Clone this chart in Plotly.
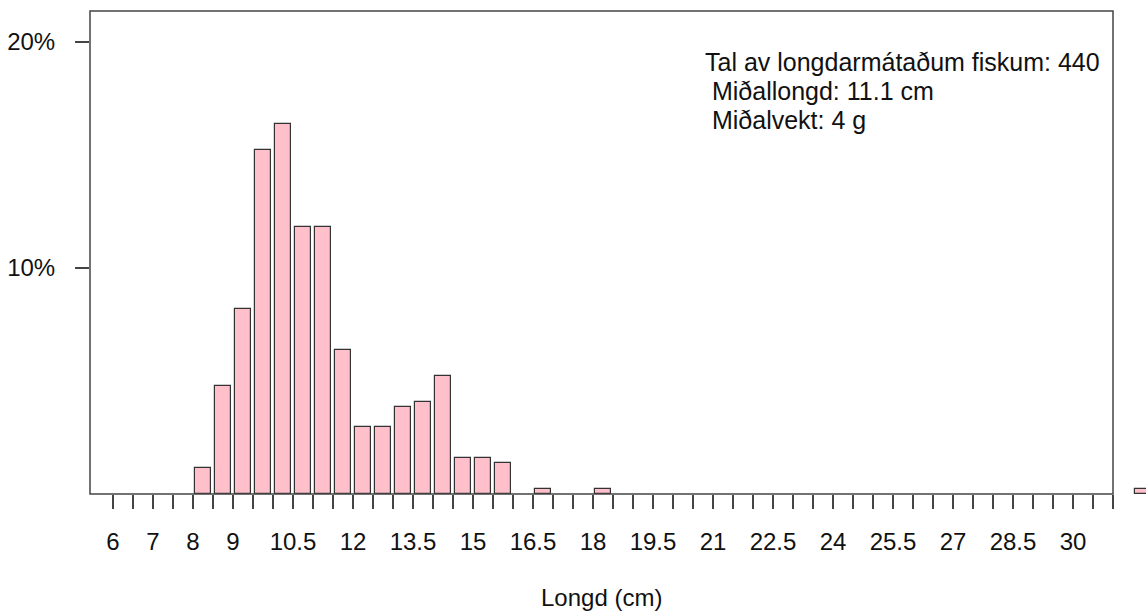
import plotly.graph_objects as go

# Length bins (cm, bin start) and number of fish
bin_start = [8.0, 8.5, 9.0, 9.5, 10.0, 10.5, 11.0, 11.5, 12.0, 12.5, 13.0, 13.5,
             14.0, 14.5, 15.0, 15.5, 16.5, 18.0, 31.5]
counts = [5, 21, 36, 67, 72, 52, 52, 28, 13, 13, 17, 18, 23, 7, 7, 6, 1, 1, 1]
n_fish = 440

tick_labels = ["6", "7", "8", "9", "10.5", "12", "13.5", "15", "16.5", "18", "19.5",
               "21", "22.5", "24", "25.5", "27", "28.5", "30"]
y_tick_vals = [10, 20]
y_tick_text = ["10%", "20%"]

info_lines = ["Tal av longdarmátaðum fiskum: 440", " Miðallongd: 11.1 cm", " Miðalvekt: 4 g"]

pct = [c / n_fish * 100 for c in counts]
centers = [b + 0.25 for b in bin_start]

W, H = 1146, 611
ml, mr, mt, mb = 90, 0, 11, 117
plot_w = W - ml - mr
plot_h = H - mt - mb
frame_right_px = 1113
x_lo = 5.425
x_hi = x_lo + plot_w / 40.0
y_hi = plot_h / 22.6

# ticks every 0.5 cm from 6 to 31
tickvals = [6 + 0.5 * i for i in range(51)]
label_map = {float(t): t for t in tick_labels}
ticktext = [label_map.get(v, "") for v in tickvals]

font = dict(family="Liberation Sans, Arial, sans-serif", size=24, color="#111111")
font_ann = dict(family="Liberation Sans, Arial, sans-serif", size=25, color="#111111")

fig = go.Figure()
fig.add_trace(go.Bar(
    x=centers, y=pct, width=0.42,
    marker=dict(color="#FFC0CB", line=dict(color="#333333", width=1.2)),
    hoverinfo="skip",
))

frame_x1 = (frame_right_px - ml) / plot_w
fig.add_shape(type="rect", xref="paper", yref="paper", x0=0, x1=frame_x1, y0=0, y1=1,
              line=dict(color="#444444", width=1.5), layer="above")

for i, line in enumerate(info_lines):
    fig.add_annotation(xref="paper", yref="paper",
                       x=(703 - ml) / plot_w, y=1 - (62 + 29 * i - mt) / plot_h,
                       xanchor="left", yanchor="middle", showarrow=False,
                       text=line.replace(" ", "&nbsp;", 1) if line.startswith(" ") else line,
                       font=font_ann)

fig.add_annotation(xref="paper", yref="paper", x=frame_x1 / 2, y=-(597 - (H - mb)) / plot_h,
                   xanchor="center", yanchor="middle", showarrow=False,
                   text="Longd (cm)", font=font)

fig.update_layout(
    width=W, height=H,
    margin=dict(l=ml, r=mr, t=mt, b=mb),
    paper_bgcolor="white", plot_bgcolor="white",
    showlegend=False, font=font, bargap=0,
)
fig.update_xaxes(range=[x_lo, x_hi], tickmode="array", tickvals=tickvals, ticktext=ticktext,
                 ticks="outside", ticklen=14, tickwidth=1.5, tickcolor="#444444",
                 showgrid=False, zeroline=False, showline=False, ticklabelstandoff=12,
                 tickfont=font)
fig.update_yaxes(range=[0, y_hi], tickmode="array", tickvals=y_tick_vals, ticktext=y_tick_text,
                 ticks="outside", ticklen=14, tickwidth=1.5, tickcolor="#444444",
                 showgrid=False, zeroline=False, showline=False, ticklabelstandoff=15,
                 tickfont=font)

fig.write_html("out.html", config={"displayModeBar": False},
               post_script="document.body.style.margin='0';document.body.style.overflow='hidden';")
